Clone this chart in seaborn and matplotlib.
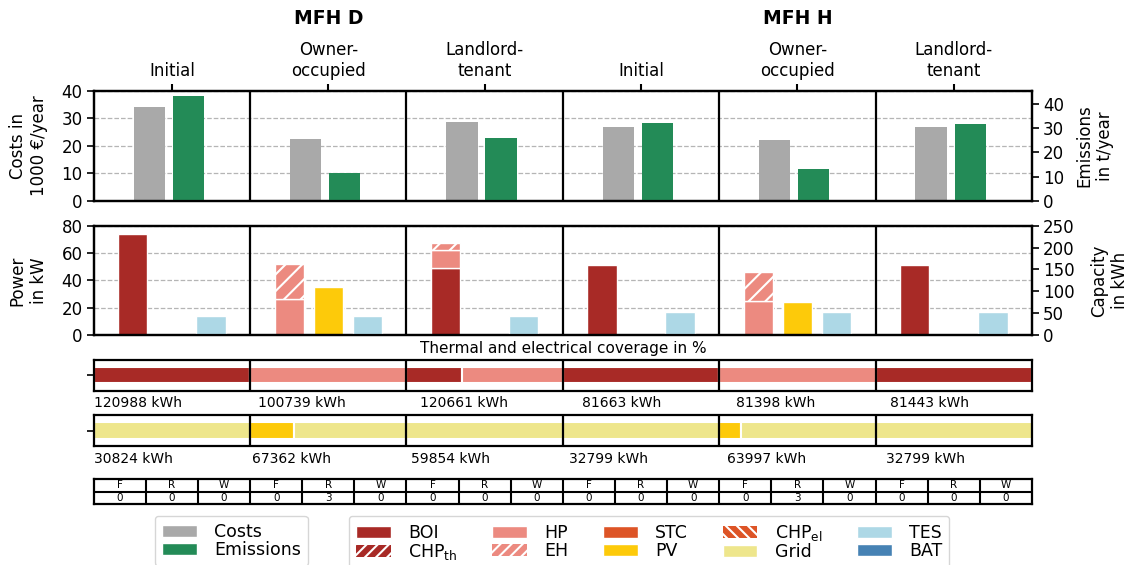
import numpy as np
import pandas as pd
import matplotlib
matplotlib.use("Agg")
import matplotlib.pyplot as plt
import matplotlib.transforms as mtransforms
from matplotlib.patches import Patch
import seaborn as sns

# ---------------- data ----------------
buildings = ["MFH D", "MFH H"]
scenarios = ["Initial", "Owner-\noccupied", "Landlord-\ntenant"]

costs = [34.2, 22.5, 28.7, 26.9, 22.2, 26.9]          # 1000 EUR/year
emissions = [43.3, 11.3, 25.9, 32.2, 13.1, 31.7]      # t/year

boi_kw = [73.7, 0.0, 49.3, 51.2, 0.0, 51.2]
hp_kw = [0.0, 26.3, 12.9, 0.0, 25.1, 0.0]
eh_kw = [0.0, 25.7, 4.9, 0.0, 21.0, 0.0]
pv_kw = [0.0, 34.9, 0.0, 0.0, 24.2, 0.0]
tes_kwh = [42.8, 42.8, 42.8, 53.3, 53.3, 53.3]

heat_demand = [120988, 100739, 120661, 81663, 81398, 81443]
elec_demand = [30824, 67362, 59854, 32799, 63997, 32799]
heat_boi_pct = [100.0, 0.0, 35.5, 100.0, 0.0, 100.0]
heat_hp_pct = [0.0, 100.0, 64.5, 0.0, 100.0, 0.0]
elec_pv_pct = [0.0, 28.0, 0.0, 0.0, 13.7, 0.0]
elec_grid_pct = [100.0, 72.0, 100.0, 100.0, 86.3, 100.0]

measure_names = ["F", "R", "W"]
measures = [[0, 0, 0], [0, 3, 0], [0, 0, 0], [0, 0, 0], [0, 3, 0], [0, 0, 0]]

# ---------------- style ----------------
sns.set_theme(style="ticks")
plt.rcParams["font.family"] = ["DejaVu Sans"]
plt.rcParams["hatch.linewidth"] = 1.5
plt.rcParams["axes.edgecolor"] = "black"
plt.rcParams["text.color"] = "black"
plt.rcParams["axes.labelcolor"] = "black"
plt.rcParams["xtick.color"] = "black"
plt.rcParams["ytick.color"] = "black"

C_COST = "#a9a9a9"
C_EM = "#238b57"
C_BOI = "#a82a26"
C_HP = "#ec8a80"
C_STC = "#dd5426"
C_PV = "#fdca0a"
C_GRID = "#eee68c"
C_TES = "#add8e6"
C_BAT = "#4682b4"

FS = 12
W, H = 1128, 565
fig = plt.figure(figsize=(W / 100, H / 100), dpi=100)


def rect(left, top, right, bottom):
    return [left / W, 1 - bottom / H, (right - left) / W, (bottom - top) / H]


L, R = 93.7, 1032
ax_c = fig.add_axes(rect(L, 91, R, 200.7))
ax_p = fig.add_axes(rect(L, 225.7, R, 335))
ax_th = fig.add_axes(rect(L, 360, R, 390.5))
ax_el = fig.add_axes(rect(L, 415, R, 446))
ax_tab = fig.add_axes(rect(L, 479.3, R, 504.3))

n = len(costs)
span = 4
centers = span * np.arange(n) + span / 2
XMAX = span * n
SPINE_LW = 1.6


def frame(ax):
    for s in ax.spines.values():
        s.set_visible(True)
        s.set_color("black")
        s.set_linewidth(SPINE_LW)


def dividers(ax):
    for k in range(1, n):
        ax.axvline(span * k, color="black", lw=SPINE_LW, zorder=3)


def bars(ax, x, h, bottom=None, width=0.75, **kw):
    x = np.asarray(x, float)
    h = np.asarray(h, float)
    b = np.zeros_like(h) if bottom is None else np.asarray(bottom, float)
    m = h > 0
    ax.bar(x[m], h[m], width, bottom=b[m], **kw)


# ---------------- costs / emissions ----------------
df_ce = pd.DataFrame({
    "pos_cost": centers - 0.58,
    "pos_em": centers + 0.42,
    "costs": costs,
    "emissions": emissions,
})
sns.barplot(data=df_ce, x="pos_cost", y="costs", native_scale=True, orient="x",
            width=0.2, color=C_COST, saturation=1, linewidth=0, errorbar=None, ax=ax_c)
ax_e = ax_c.twinx()
sns.barplot(data=df_ce, x="pos_em", y="emissions", native_scale=True, orient="x",
            width=0.2, color=C_EM, saturation=1, linewidth=0, errorbar=None, ax=ax_e)

ax_c.set_xlim(0, XMAX)
ax_c.set_ylim(0, 40)
ax_e.set_ylim(0, 45.4)
ax_c.set_yticks([0, 10, 20, 30, 40])
ax_e.set_yticks([0, 10, 20, 30, 40])
ax_c.set_xticks(centers)
ax_c.set_xticklabels(scenarios * 2)
ax_c.tick_params(axis="x", bottom=False, labelbottom=False, top=True, labeltop=True,
                 length=5, width=1.5, labelsize=FS, pad=3)
ax_c.set_ylabel("Costs in\n1000 €/year", fontsize=FS, labelpad=10)
ax_e.set_ylabel("Emissions\nin t/year", fontsize=FS, labelpad=8)
ax_c.set_xlabel("")
ax_e.set_xlabel("")

# ---------------- power / capacity ----------------
x_heat = centers - 1
x_elec = centers
x_store = centers + 1
edge = dict(edgecolor="white", linewidth=1)
bars(ax_p, x_heat, boi_kw, color=C_BOI, **edge)
bars(ax_p, x_heat, hp_kw, bottom=boi_kw, color=C_HP, **edge)
bars(ax_p, x_heat, eh_kw, bottom=np.add(boi_kw, hp_kw), color=C_HP, hatch="//", **edge)
bars(ax_p, x_elec, pv_kw, color=C_PV, **edge)
ax_cap = ax_p.twinx()
bars(ax_cap, x_store, tes_kwh, color=C_TES, **edge)

ax_p.set_xlim(0, XMAX)
ax_p.set_ylim(0, 80)
ax_cap.set_ylim(0, 250)
ax_p.set_yticks([0, 20, 40, 60, 80])
ax_cap.set_yticks([0, 50, 100, 150, 200, 250])
ax_p.set_xticks([])
ax_p.set_ylabel("Power\nin kW", fontsize=FS, labelpad=10)
ax_cap.set_ylabel("Capacity\nin kWh", fontsize=FS, labelpad=11)

for ax in (ax_c, ax_p):
    ax.set_axisbelow(True)
    ax.yaxis.grid(True, linestyle="--", color="#b5b5b5", linewidth=0.9)
    dividers(ax)
for ax in (ax_c, ax_e, ax_p, ax_cap):
    frame(ax)
    ax.tick_params(axis="y", length=5, width=1.2, labelsize=FS, pad=3)

# ---------------- coverage ----------------
bar_h = 0.52
cov_edge = dict(edgecolor="white", linewidth=1.5)
left0 = span * np.arange(n)
ax_th.barh(np.zeros(n), np.array(heat_boi_pct) / 100 * span, bar_h, left=left0,
           color=C_BOI, **cov_edge)
ax_th.barh(np.zeros(n), np.array(heat_hp_pct) / 100 * span, bar_h,
           left=left0 + np.array(heat_boi_pct) / 100 * span, color=C_HP, **cov_edge)
ax_el.barh(np.zeros(n), np.array(elec_pv_pct) / 100 * span, bar_h, left=left0,
           color=C_PV, **cov_edge)
ax_el.barh(np.zeros(n), np.array(elec_grid_pct) / 100 * span, bar_h,
           left=left0 + np.array(elec_pv_pct) / 100 * span, color=C_GRID, **cov_edge)

heat_label_shift = [0.0, 0.17, 0.33, 0.48, 0.42, 0.34]
elec_label_shift = [0.0, 0.04, 0.09, 0.14, 0.19, 0.24]
for ax, demand, shift in ((ax_th, heat_demand, heat_label_shift),
                          (ax_el, elec_demand, elec_label_shift)):
    ax.set_xlim(0, XMAX)
    ax.set_ylim(-0.5, 0.5)
    ax.set_xticks([])
    ax.set_yticks([0])
    ax.set_yticklabels([""])
    ax.tick_params(axis="y", length=5, width=1.2)
    frame(ax)
    dividers(ax)
    trans = mtransforms.blended_transform_factory(ax.transData, ax.transAxes)
    for k, val in enumerate(demand):
        ax.text(span * k + shift[k] + 0.02, -0.42, f"{val} kWh", transform=trans,
                ha="left", va="center", fontsize=10)

ax_th.text(0.5, 1.39, "Thermal and electrical coverage in %", transform=ax_th.transAxes,
           ha="center", va="center", fontsize=11)

# ---------------- measures table ----------------
ncell = n * len(measure_names)
ax_tab.set_xlim(0, ncell)
ax_tab.set_ylim(0, 2)
ax_tab.set_xticks([])
ax_tab.set_yticks([])
frame(ax_tab)
for i in range(1, ncell):
    ax_tab.axvline(i, color="black", lw=1.5)
ax_tab.axhline(1, color="black", lw=1.5)
for k, row in enumerate(measures):
    for j, (name, val) in enumerate(zip(measure_names, row)):
        idx = k * len(measure_names) + j + 0.5
        ax_tab.text(idx, 1.92, name, ha="center", va="top", fontsize=7.5)
        ax_tab.text(idx, 0.92, str(val), ha="center", va="top", fontsize=7.5)

# ---------------- headers ----------------
trans_h = mtransforms.blended_transform_factory(ax_c.transData, fig.transFigure)
for b, x in zip(buildings, [centers[1], centers[4]]):
    ax_c.text(x, 1 - 19 / H, b, transform=trans_h, ha="center", va="center",
              fontsize=13.5, fontweight="bold")

# ---------------- legends ----------------
leg_kw = dict(loc="upper left", fontsize=12.5, frameon=True, fancybox=True,
              framealpha=0.8, edgecolor="0.8", borderaxespad=0,
              labelspacing=0.0, borderpad=0.4, handlelength=2.0, handletextpad=1.0,
              columnspacing=2.0)
fig.legend(handles=[Patch(facecolor=C_COST, label="Costs"),
                    Patch(facecolor=C_EM, label="Emissions")],
           bbox_to_anchor=(155 / W, 1 - 516 / H), **leg_kw)
tech_handles = [
    Patch(facecolor=C_BOI, label="BOI"),
    Patch(facecolor=C_BOI, edgecolor="white", hatch="///", lw=0, label="CHP$_{\\mathrm{th}}$"),
    Patch(facecolor=C_HP, label="HP"),
    Patch(facecolor=C_HP, edgecolor="white", hatch="///", lw=0, label="EH"),
    Patch(facecolor=C_STC, label="STC"),
    Patch(facecolor=C_PV, label="PV"),
    Patch(facecolor=C_STC, edgecolor="white", hatch="\\\\\\", lw=0, label="CHP$_{\\mathrm{el}}$"),
    Patch(facecolor=C_GRID, label="Grid"),
    Patch(facecolor=C_TES, label="TES"),
    Patch(facecolor=C_BAT, label="BAT"),
]
fig.legend(handles=tech_handles, ncol=5, bbox_to_anchor=(349 / W, 1 - 516 / H), **leg_kw)

fig.savefig("out.png", dpi=100)
